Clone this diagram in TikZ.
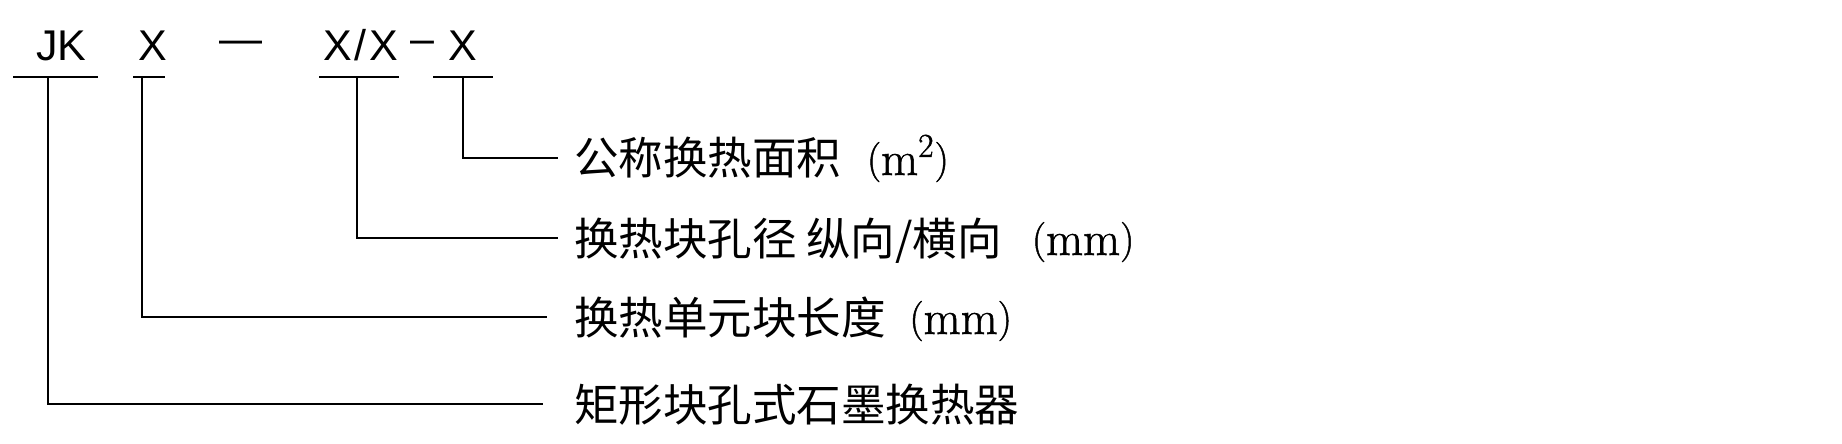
\documentclass[tikz,border=0pt]{standalone}
\usepackage{fontspec}
\setsansfont{Liberation Sans}
\newfontfamily\cjk{Noto Sans CJK SC}
\newfontfamily\latf{Latin Modern Roman}[FakeBold=1.2]
\newcommand\pl{\raisebox{1.5pt}{\fontsize{20pt}{22pt}\selectfont (}}
\newcommand\pr{\raisebox{1.5pt}{\fontsize{20pt}{22pt}\selectfont )}}
\newcommand\lat[1]{{\latf\fontsize{24pt}{28pt}\selectfont #1}}
\begin{document}
\begin{tikzpicture}[x=0.5pt,y=-0.5pt,line width=1pt,
  code/.style={font=\sffamily\fontsize{21.5pt}{24pt}\selectfont, anchor=base west, inner sep=0pt},
  lab/.style={font=\cjk\fontsize{22.25pt}{26pt}\selectfont, anchor=base west, inner sep=0pt},
  lead/.style={line width=1pt, black}]
\useasboundingbox (0,0) rectangle (1842,444);
% code line
\node[code] (jk) at (35,61) {JK};
\node[code] (x1) at (137,61) {X};
\node[code] (d1) at (218,54) {—};
\node[code] (xx) at (322,61) {X\kern1.5pt/\kern1.5pt X};
\node[code] (d2) at (409,54) {–};
\node[code] (x2) at (447,61) {X};
% underlines
\coordinate (jkL) at (13,77);  \coordinate (jkR) at (98,77);
\coordinate (x1L) at (133,77); \coordinate (x1R) at (165,77);
\coordinate (xxL) at (319,77); \coordinate (xxR) at (399,77);
\coordinate (x2L) at (433,77); \coordinate (x2R) at (493,77);
\draw[lead] (jkL) -- (jkR);
\draw[lead] (x1L) -- (x1R);
\draw[lead] (xxL) -- (xxR);
\draw[lead] (x2L) -- (x2R);
% labels
\node[lab] (l1) at (573,175) {公称换热面积\hspace{13pt}\lat{\pl m\textsuperscript{2}\pr}};
\node[lab] (l2) at (573,255) {换热块孔径 纵向/横向\hspace{15pt}\lat{\pl mm\pr}};
\node[lab] (l3) at (573,334) {换热单元块长度\hspace{12pt}\lat{\pl mm\pr}};
\node[lab] (l4) at (573,421) {矩形块孔式石墨换热器};
% leader lines
\coordinate (t1) at (463,77); \coordinate (e1) at (558,158);
\coordinate (t2) at (357,77); \coordinate (e2) at (558,238);
\coordinate (t3) at (142,77); \coordinate (e3) at (547,317);
\coordinate (t4) at (48,77);  \coordinate (e4) at (543,404);
\draw[lead] (t1) |- (e1);
\draw[lead] (t2) |- (e2);
\draw[lead] (t3) |- (e3);
\draw[lead] (t4) |- (e4);
\end{tikzpicture}
\end{document}
